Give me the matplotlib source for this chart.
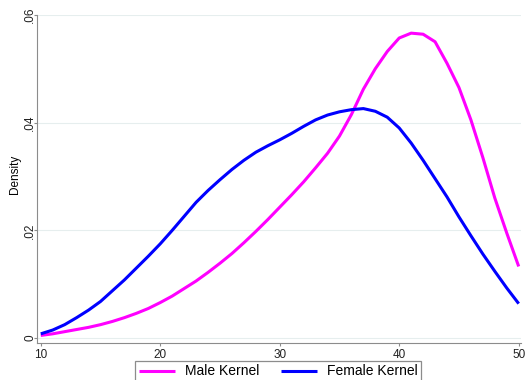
import matplotlib.pyplot as plt
import numpy as np

# Kernel density estimates, by age
ages = np.arange(10, 51)
male_density = [
    0.0005, 0.0008, 0.0012, 0.0016, 0.0020, 0.0025, 0.0031, 0.0038, 0.0046, 0.0055,
    0.0066, 0.0078, 0.0092, 0.0106, 0.0122, 0.0139, 0.0157, 0.0177, 0.0198, 0.0220,
    0.0243, 0.0266, 0.0290, 0.0316, 0.0343, 0.0375, 0.0415, 0.0462, 0.0500, 0.0532,
    0.0557, 0.0566, 0.0564, 0.0550, 0.0510, 0.0465, 0.0405, 0.0335, 0.0260, 0.0195,
    0.0133,
]
female_density = [
    0.0008, 0.0015, 0.0025, 0.0038, 0.0052, 0.0068, 0.0088, 0.0108, 0.0130, 0.0152,
    0.0175, 0.0200, 0.0226, 0.0252, 0.0274, 0.0294, 0.0313, 0.0330, 0.0345, 0.0357,
    0.0368, 0.0380, 0.0393, 0.0405, 0.0414, 0.0420, 0.0424, 0.0426, 0.0421, 0.0410,
    0.0390, 0.0362, 0.0330, 0.0296, 0.0262, 0.0225, 0.0190, 0.0156, 0.0124, 0.0093,
    0.0064,
]
x_ticks = [10, 20, 30, 40, 50]
y_ticks = [0, 0.02, 0.04, 0.06]
y_tick_labels = ["0", ".02", ".04", ".06"]

plt.rcParams["font.family"] = ["Liberation Sans", "DejaVu Sans"]

fig = plt.figure(figsize=(5.26, 3.8), dpi=100)
ax = fig.add_axes([0.070, 0.097, 0.920, 0.864])

ax.plot(ages, male_density, color="#ff00ff", lw=2.2, label="Male Kernel", solid_capstyle="butt")
ax.plot(ages, female_density, color="#0000ff", lw=2.2, label="Female Kernel", solid_capstyle="butt")

ax.set_xlim(9.67, 50.17)
ax.set_ylim(-0.00093, 0.06)
ax.set_xticks(x_ticks)
ax.set_yticks(y_ticks)
ax.set_yticklabels(y_tick_labels, rotation=90, va="center")
ax.set_ylabel("Density", fontsize=8.5)
ax.yaxis.set_label_coords(-0.033, 0.515)

for y in y_ticks:
    ax.axhline(y, color="#e6eeee", lw=0.8, zorder=0)

for side in ("top", "right"):
    ax.spines[side].set_visible(False)
for side in ("left", "bottom"):
    ax.spines[side].set_color("#8c8c8c")
    ax.spines[side].set_linewidth(0.8)
ax.tick_params(colors="#8c8c8c", labelcolor="#222222", labelsize=8.5, length=2.5, width=0.8)
ax.tick_params(axis="y", pad=-2)
ax.tick_params(axis="x", pad=2)

leg = fig.legend(loc="upper center", bbox_to_anchor=(0.529, 0.05), borderaxespad=0, ncol=2,
                 fontsize=10, fancybox=False, framealpha=1, edgecolor="#8c8c8c",
                 handlelength=2.6, handletextpad=0.7, columnspacing=1.6, borderpad=0.25)
leg.get_frame().set_linewidth(0.9)

fig.savefig("out.png", dpi=100)
